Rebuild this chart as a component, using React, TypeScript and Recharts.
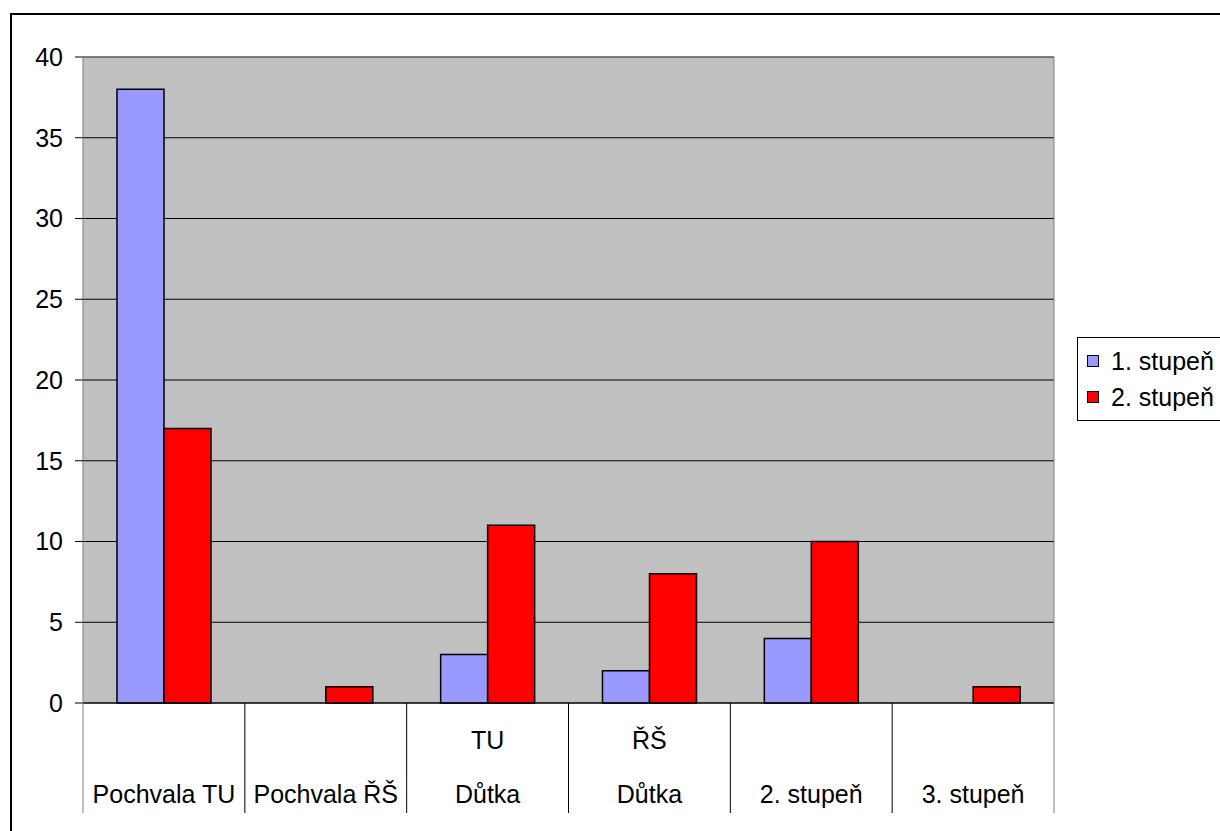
import React from 'react';
import { BarChart, Bar, XAxis, YAxis, CartesianGrid, Legend, ReferenceLine } from 'recharts';

const categories = ['Pochvala TU', 'Pochvala ŘŠ', 'TU\nDůtka', 'ŘŠ\nDůtka', '2. stupeň', '3. stupeň'];
const stupen1 = [38, 0, 3, 2, 4, 0];
const stupen2 = [17, 1, 11, 8, 10, 1];
const seriesNames = ['1. stupeň', '2. stupeň'];
const seriesColors = ['#9999FF', '#FF0000'];
const yTicks = [0, 5, 10, 15, 20, 25, 30, 35, 40];

const data = categories.map((c, i) => ({ name: c, s1: stupen1[i], s2: stupen2[i] }));

const FONT = '"Liberation Sans", Arial, sans-serif';
const FS = 25;

const XTick = (props: any) => {
  const { x, y, payload, index, visibleTicksCount } = props;
  const half = payload && typeof payload.offset === 'number' && payload.offset > 0 ? payload.offset : 81;
  const lines = String(payload.value).split('\n');
  const last = index === visibleTicksCount - 1;
  return (
    <g>
      <line x1={x - half} x2={x - half} y1={y} y2={y + 110} stroke={index === 0 ? '#808080' : '#000'} strokeWidth={1} />
      {last && <line x1={x + half} x2={x + half} y1={y} y2={y + 110} stroke="#808080" strokeWidth={1} />}
      {lines.length === 2 ? (
        <>
          <text x={x} y={y + 46} textAnchor="middle" fontFamily={FONT} fontSize={FS} fill="#000">{lines[0]}</text>
          <text x={x} y={y + 100} textAnchor="middle" fontFamily={FONT} fontSize={FS} fill="#000">{lines[1]}</text>
        </>
      ) : (
        <text x={x} y={y + 100} textAnchor="middle" fontFamily={FONT} fontSize={FS} fill="#000">{lines[0]}</text>
      )}
    </g>
  );
};

const LegendContent = (props: any) => {
  const payload = props.payload || [];
  return (
    <div style={{ border: '1px solid #000', background: '#fff', padding: '5px 0 5px 9px', width: 160, boxSizing: 'border-box' }}>
      {payload.map((p: any, i: number) => (
        <div key={i} style={{ display: 'flex', alignItems: 'center', height: 36, fontFamily: FONT, fontSize: FS, color: '#000', whiteSpace: 'nowrap' }}>
          <span style={{ display: 'inline-block', width: 10, height: 10, background: p.color, border: '1.5px solid #000', marginRight: 12 }} />
          <span>{p.value}</span>
        </div>
      ))}
    </div>
  );
};

export default function App() {
  return (
    <div style={{ position: 'fixed', left: 0, top: 0, width: 1220, height: 831, overflow: 'hidden', background: '#fff' }}>
      <div style={{ position: 'absolute', left: 10, top: 13, width: 1300, height: 900, border: '2px solid #000' }} />
      <div style={{ position: 'absolute', left: 0, top: 0 }}>
        <BarChart
          width={1220}
          height={831}
          data={data}
          margin={{ top: 57, right: 166, bottom: 18, left: 10 }}
          barCategoryGap="21%"
          barGap={0}
        >
          <CartesianGrid vertical={false} fill="#C0C0C0" stroke="#000" strokeWidth={1} />
          <XAxis
            dataKey="name"
            height={110}
            interval={0}
            tickSize={0}
            tickMargin={0}
            tickLine={false}
            axisLine={{ stroke: '#000', strokeWidth: 1 }}
            tick={<XTick />}
          />
          <YAxis
            width={73}
            domain={[0, 40]}
            ticks={yTicks}
            interval={0}
            tickSize={8}
            tickMargin={12}
            axisLine={{ stroke: '#808080', strokeWidth: 1 }}
            tickLine={{ stroke: '#000', strokeWidth: 1 }}
            tick={{ fill: '#000', fontSize: FS, fontFamily: FONT }}
          />
          <ReferenceLine y={40} stroke="#808080" strokeWidth={1} />
          <ReferenceLine x="3. stupeň" position="end" stroke="#808080" strokeWidth={1} />
          <Legend
            layout="horizontal"
            verticalAlign="middle"
            align="center"
            wrapperStyle={{ position: 'absolute', left: 1077, top: 337, width: 160, height: 'auto' }}
            content={<LegendContent />}
          />
          <Bar dataKey="s1" name={seriesNames[0]} fill={seriesColors[0]} stroke="#000" strokeWidth={1.5} isAnimationActive={false} />
          <Bar dataKey="s2" name={seriesNames[1]} fill={seriesColors[1]} stroke="#000" strokeWidth={1.5} isAnimationActive={false} />
        </BarChart>
      </div>
    </div>
  );
}
